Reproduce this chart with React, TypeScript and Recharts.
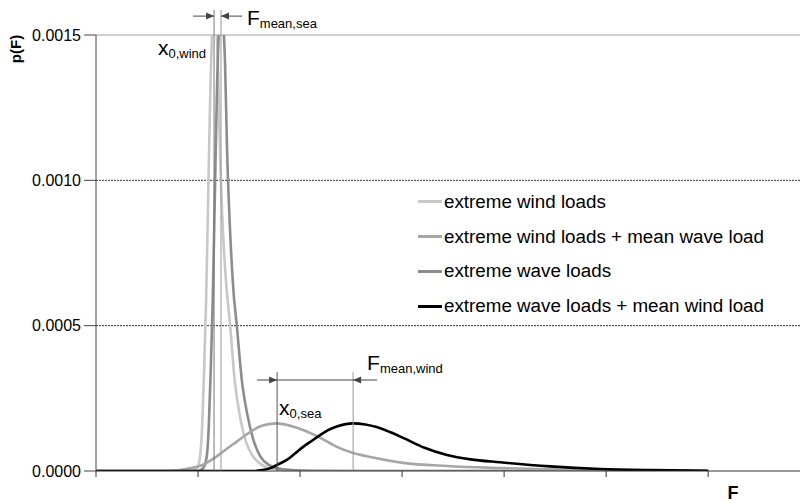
import React from 'react';
import { LineChart, Line, XAxis, YAxis, ReferenceLine, Legend } from 'recharts';

// Load axis F (one unit per tick interval) and densities p(F) for each curve
const windF = [0, 0.92, 0.99, 1.02, 1.04, 1.06, 1.08, 1.1, 1.12, 1.14, 1.157, 1.175, 1.195, 1.215, 1.245, 1.275, 1.315, 1.36, 1.41, 1.47, 1.54, 1.63, 1.75, 2.0, 2.5, 6.0];
const windP = [0, 0, 0.00001, 0.00005, 0.00015, 0.00035, 0.0006, 0.00095, 0.0013, 0.00152, 0.0016, 0.00155, 0.0014, 0.0011, 0.00082, 0.00065, 0.0005, 0.00031, 0.00019, 0.0001, 0.00005, 0.00002, 0.000006, 0.000001, 0, 0];

const windWaveF = [0, 1.0, 1.05, 1.085, 1.105, 1.125, 1.145, 1.165, 1.185, 1.205, 1.225, 1.245, 1.265, 1.285, 1.315, 1.345, 1.38, 1.43, 1.48, 1.54, 1.61, 1.7, 1.83, 2.1, 2.6, 6.0];
const windWaveP = [0, 0, 0.00001, 0.00005, 0.00015, 0.00035, 0.0006, 0.00095, 0.0013, 0.00152, 0.0016, 0.00155, 0.0014, 0.0011, 0.00082, 0.00063, 0.0005, 0.00031, 0.0002, 0.00011, 0.00005, 0.00002, 0.000006, 0.000001, 0, 0];

const waveF = [0, 0.73, 0.82, 0.92, 1.05, 1.14, 1.22, 1.3, 1.38, 1.46, 1.54, 1.64, 1.775, 1.89, 2.03, 2.2, 2.36, 2.52, 2.69, 3.01, 3.44, 3.96, 4.55, 5.14, 6.0];
const waveP = [0, 0, 0.000003, 0.000009, 0.000022, 0.00004, 0.00006, 0.000081, 0.000101, 0.000122, 0.000141, 0.000157, 0.000164, 0.000157, 0.000141, 0.000114, 0.000083, 0.000062, 0.000048, 0.000028, 0.000017, 0.00001, 0.000005, 0.000002, 0];

const waveWindF = [0, 1.56, 1.63, 1.71, 1.78, 1.87, 1.95, 2.03, 2.12, 2.2, 2.27, 2.36, 2.52, 2.64, 2.75, 2.88, 3.01, 3.22, 3.44, 3.67, 3.96, 4.45, 4.94, 5.43, 6.0];
const waveWindP = [0, 0, 0.000003, 0.00001, 0.000022, 0.000038, 0.00006, 0.000083, 0.000105, 0.000124, 0.00014, 0.000153, 0.000164, 0.00016, 0.000151, 0.000134, 0.000114, 0.00008, 0.000055, 0.00004, 0.00003, 0.000016, 0.000007, 0.000003, 0.000001];

const seriesNames = [
  'extreme wind loads',
  'extreme wind loads + mean wave load',
  'extreme wave loads',
  'extreme wave loads + mean wind load',
];
const lineColors = ['#c8c8c8', '#8c8c8c', '#a6a6a6', '#000000'];
const legendColors = ['#c8c8c8', '#a6a6a6', '#8c8c8c', '#000000'];

const yTicks = [0, 0.0005, 0.001, 0.0015];
const fTicks = [0, 1, 2, 3, 4, 5, 6];
const gridLevels = [0.0005, 0.001];

// characteristic loads marked with dimension arrows
const x0Wind = 1.157;
const fMeanSea = 0.068;
const x0Sea = 1.775;
const fMeanWind = 0.745;

const FONT = '"Liberation Sans", Arial, sans-serif';

const toPoints = (f: number[], p: number[]) => f.map((v, i) => ({ f: v, p: p[i] }));

const series = [
  toPoints(windF, windP),
  toPoints(windWaveF, windWaveP),
  toPoints(waveF, waveP),
  toPoints(waveWindF, waveWindP),
];

type Tag = { main: string; sub: string; dx: number; dy: number; anchor: 'start' | 'end' };

// vertical marker line, optionally with a subscripted label near its top
const markerShape = (color: string, tag?: Tag) => (props: any) => {
  const { x1, y1, x2, y2 } = props;
  const top = Math.min(y1, y2);
  return (
    <g>
      <line x1={x1} y1={y1} x2={x2} y2={y2} stroke={color} strokeWidth={1} />
      {tag && (
        <text x={x1 + tag.dx} y={top + tag.dy} textAnchor={tag.anchor} fontFamily={FONT} fontSize={21} fill="#000">
          <tspan>{tag.main}</tspan>
          <tspan fontSize={13} dy={3}>{tag.sub}</tspan>
        </text>
      )}
    </g>
  );
};

// horizontal line with a filled arrowhead at its second point
const arrowShape = (color: string) => (props: any) => {
  const { x1, y1, x2, y2 } = props;
  const dir = x2 > x1 ? 1 : -1;
  const len = 8;
  const half = 3.5;
  return (
    <g>
      <line x1={x1} y1={y1} x2={x2} y2={y2} stroke={color} strokeWidth={1} />
      <polygon points={`${x2},${y2} ${x2 - dir * len},${y2 - half} ${x2 - dir * len},${y2 + half}`} fill={color} />
    </g>
  );
};

const LegendBox = () => (
  <div style={{ fontFamily: FONT, fontSize: 18.8, color: '#000' }}>
    {seriesNames.map((name, i) => (
      <div key={name} style={{ display: 'flex', alignItems: 'center', height: 34.7, whiteSpace: 'nowrap' }}>
        <span style={{ display: 'inline-block', width: 24, height: 3, background: legendColors[i], marginRight: 2 }} />
        <span>{name}</span>
      </div>
    ))}
  </div>
);

const seg = (x1: number, y1: number, x2: number, y2: number) => [
  { x: x1, y: y1 },
  { x: x2, y: y2 },
];

export default function App() {
  const windTop = 0.001586;
  const windArrowY = 0.001565;
  const seaTop = 0.00034;
  const seaArrowY = 0.000313;

  return (
    <div style={{ position: 'absolute', left: 0, top: 0, background: '#fff' }}>
      <LineChart width={802} height={503} margin={{ top: 35, right: 2, bottom: 0, left: 0 }}>
        <XAxis
          type="number"
          dataKey="f"
          domain={[0, 6.9]}
          ticks={fTicks}
          interval={0}
          tickFormatter={() => ''}
          tickSize={6}
          height={32}
          stroke="#333"
          axisLine={{ stroke: '#333', strokeWidth: 1 }}
          tickLine={{ stroke: '#333' }}
          label={{
            content: (p: any) => {
              const vb = p.viewBox;
              return (
                <text x={vb.x + 637} y={vb.y + 28} textAnchor="middle" fontFamily={FONT} fontWeight="bold" fontSize={18} fill="#000">
                  F
                </text>
              );
            },
          }}
        />
        <YAxis
          type="number"
          dataKey="p"
          domain={[0, 0.0015]}
          allowDataOverflow
          ticks={yTicks}
          interval={0}
          width={96}
          tickSize={12}
          tickMargin={3}
          tickFormatter={(v: number) => v.toFixed(4)}
          tick={{ fontSize: 16, fontFamily: FONT, fill: '#000' }}
          axisLine={{ stroke: '#444' }}
          tickLine={{ stroke: '#444' }}
          label={{
            content: (p: any) => {
              const vb = p.viewBox;
              const cx = vb.x + 15.5;
              const cy = vb.y + 14;
              return (
                <text
                  x={cx}
                  y={cy}
                  transform={`rotate(-90 ${cx} ${cy})`}
                  textAnchor="middle"
                  dominantBaseline="central"
                  fontFamily={FONT}
                  fontWeight="bold"
                  fontSize={15}
                  fill="#000"
                >
                  p(F)
                </text>
              );
            },
          }}
        />

        {gridLevels.map((lv) => (
          <ReferenceLine key={lv} y={lv} stroke="#333" strokeDasharray="2 1" strokeWidth={1} />
        ))}
        <ReferenceLine y={0.0015} stroke="#a0a0a0" strokeWidth={1} />

        {series.map((pts, i) => (
          <Line
            key={seriesNames[i]}
            data={pts}
            dataKey="p"
            name={seriesNames[i]}
            type="monotone"
            stroke={lineColors[i]}
            strokeWidth={2.6}
            dot={false}
            activeDot={false}
            isAnimationActive={false}
          />
        ))}

        {/* wind: x0 and shift by mean sea load */}
        <ReferenceLine
          segment={seg(x0Wind, windTop, x0Wind, 0)}
          ifOverflow="visible"
          shape={markerShape('#777', { main: 'x', sub: '0,wind', dx: -8, dy: 45, anchor: 'end' })}
        />
        <ReferenceLine
          segment={seg(x0Wind + fMeanSea, windTop, x0Wind + fMeanSea, 0)}
          ifOverflow="visible"
          shape={markerShape('#999', { main: 'F', sub: 'mean,sea', dx: 26, dy: 15, anchor: 'start' })}
        />
        <ReferenceLine segment={seg(0.951, windArrowY, x0Wind, windArrowY)} ifOverflow="visible" shape={arrowShape('#444')} />
        <ReferenceLine
          segment={seg(1.431, windArrowY, x0Wind + fMeanSea, windArrowY)}
          ifOverflow="visible"
          shape={arrowShape('#444')}
        />

        {/* sea: x0 and shift by mean wind load */}
        <ReferenceLine
          segment={seg(x0Sea, seaTop, x0Sea, 0)}
          ifOverflow="visible"
          shape={markerShape('#555', { main: 'x', sub: '0,sea', dx: 2, dy: 43, anchor: 'start' })}
        />
        <ReferenceLine
          segment={seg(x0Sea + fMeanWind, seaTop, x0Sea + fMeanWind, 0)}
          ifOverflow="visible"
          shape={markerShape('#999', { main: 'F', sub: 'mean,wind', dx: 14, dy: -2, anchor: 'start' })}
        />
        <ReferenceLine
          segment={seg(x0Sea, seaArrowY, x0Sea + fMeanWind, seaArrowY)}
          ifOverflow="visible"
          stroke="#444"
          strokeWidth={1}
        />
        <ReferenceLine segment={seg(1.578, seaArrowY, x0Sea, seaArrowY)} ifOverflow="visible" shape={arrowShape('#444')} />
        <ReferenceLine
          segment={seg(2.755, seaArrowY, x0Sea + fMeanWind, seaArrowY)}
          ifOverflow="visible"
          shape={arrowShape('#444')}
        />

        <Legend
          layout="horizontal"
          verticalAlign="middle"
          align="center"
          wrapperStyle={{ left: 418, top: 184.6, width: 380, height: 140 }}
          content={() => <LegendBox />}
        />
      </LineChart>
    </div>
  );
}
